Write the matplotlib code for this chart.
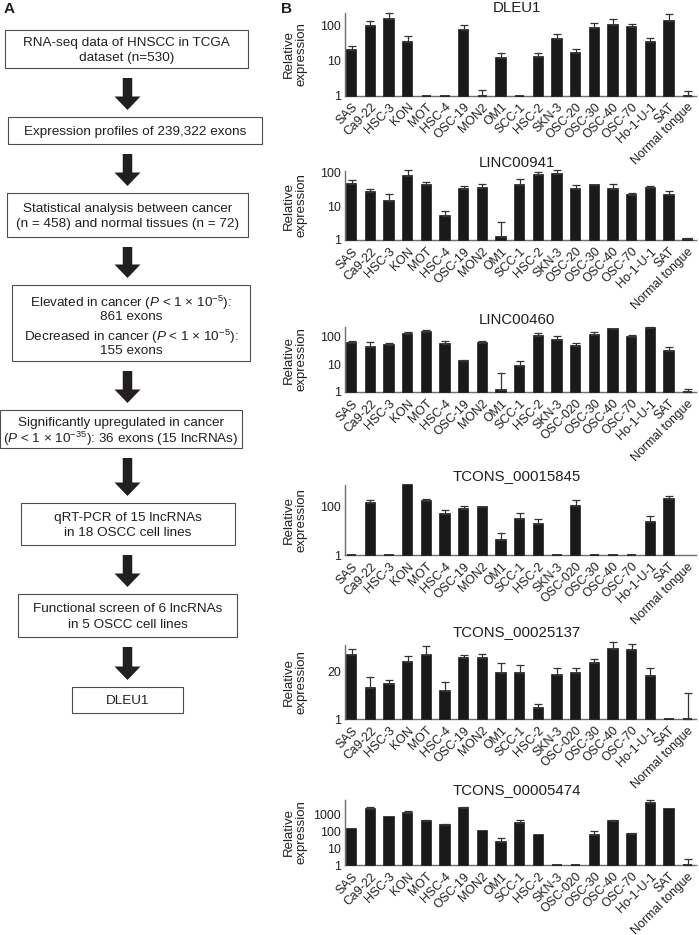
import numpy as np
import matplotlib
matplotlib.use("Agg")
import matplotlib.pyplot as plt
from matplotlib.patches import Rectangle, FancyArrow

plt.rcParams['font.family'] = ['Liberation Sans', 'DejaVu Sans']
plt.rcParams['mathtext.fontset'] = 'custom'
plt.rcParams['mathtext.rm'] = 'Liberation Sans'
plt.rcParams['mathtext.it'] = 'Liberation Sans:italic'
plt.rcParams['mathtext.bf'] = 'Liberation Sans:bold'

# ---------------- data ----------------
cells_a = ["SAS", "Ca9-22", "HSC-3", "KON", "MOT", "HSC-4", "OSC-19", "MON2", "OM1",
           "SCC-1", "HSC-2", "SKN-3", "OSC-20", "OSC-30", "OSC-40", "OSC-70",
           "Ho-1-U-1", "SAT", "Normal tongue"]
cells_b = ["SAS", "Ca9-22", "HSC-3", "KON", "MOT", "HSC-4", "OSC-19", "MON2", "OM1",
           "SCC-1", "HSC-2", "SKN-3", "OSC-020", "OSC-30", "OSC-40", "OSC-70",
           "Ho-1-U-1", "SAT", "Normal tongue"]

dleu1_val = [19.4, 93, 148, 34, 1, 1, 72, 1, 11.6, 1, 12.2, 40, 16.6, 84, 100, 86, 34, 130, 1]
dleu1_hi = [25.6, 130, 216, 48, 1, 1, 100, 1.39, 16.6, 1, 16.6, 55, 21.6, 112, 146, 105, 42, 207, 1.3]

linc941_val = [47, 26, 14.6, 81, 42, 5.3, 33, 36, 1.2, 44, 87, 92, 33, 42, 32, 21.6, 36, 22, 1.1]
linc941_hi = [62, 33, 23, 117, 53, 7.5, 41, 45, 3.4, 66, 105, 120, 44, 42.5, 46, 25, 41, 28, 1.17]

linc460_val = [60, 43, 48, 126, 149, 55, 13.4, 60, 1.2, 8.8, 103, 74, 46, 109, 180, 95, 196, 30, 1]
linc460_hi = [68, 65, 60, 144, 170, 71, 14, 71, 5, 13.4, 129, 107, 60, 149, 191, 109, 226, 43, 1.3]

t15845_val = [1, 145, 1, 790, 166, 49, 82, 99, 4.2, 30, 19, 1, 109, 1, 1, 1, 22.4, 220, np.nan]
t15845_hi = [1, 200, 1, 790, 212, 72, 106, 100, 7.9, 56, 32, 1, 187, 1, 1, 1, 41, 275, np.nan]

t25137_val = [60, 7.3, 9.2, 37, 60, 5.9, 48, 47, 18.8, 18.4, 2.0, 16.6, 18.8, 34.5, 83, 82, 15.2, 1, 1]
t25137_hi = [87, 14, 11.6, 55, 102, 10.3, 60, 62, 35, 30, 2.6, 26, 26, 46, 129, 116, 25, 1, 5.1]

t5474_val = [138, 1950, 700, 1140, 405, 228, 2340, 106, 22, 310, 62, 1, 1, 59, 390, 71, 4800, 1950, 1]
t5474_hi = [138, 2680, 700, 1560, 465, 270, 2680, 106, 38, 445, 62, 1, 1, 101, 465, 78, 6600, 1950, 2.3]

panels = [
    ("DLEU1", cells_a, dleu1_val, dleu1_hi, [1, 10, 100], 220),
    ("LINC00941", cells_a, linc941_val, linc941_hi, [1, 10, 100], 112),
    ("LINC00460", cells_b, linc460_val, linc460_hi, [1, 10, 100], 220),
    ("TCONS_00015845", cells_b, t15845_val, t15845_hi, [1, 100], 800),
    ("TCONS_00025137", cells_b, t25137_val, t25137_hi, [1, 20], 110),
    ("TCONS_00005474", cells_b, t5474_val, t5474_hi, [1, 10, 100, 1000], 7000),
]

flow_steps = [
    ["RNA-seq data of HNSCC in TCGA", "dataset (n=530)"],
    ["Expression profiles of 239,322 exons"],
    ["Statistical analysis between cancer", "(n = 458) and normal tissues (n = 72)"],
    ["Elevated in cancer ($\\mathit{P}$ < 1 × 10$^{\\mathrm{-5}}$):", "861 exons",
     "Decreased in cancer ($\\mathit{P}$ < 1 × 10$^{\\mathrm{-5}}$):", "155 exons"],
    ["Significantly upregulated in cancer",
     "($\\mathit{P}$ < 1 × 10$^{\\mathrm{-35}}$): 36 exons (15 lncRNAs)"],
    ["qRT-PCR of 15 lncRNAs", "in 18 OSCC cell lines"],
    ["Functional screen of 6 lncRNAs", "in 5 OSCC cell lines"],
    ["DLEU1"],
]

# ---------------- layout (pixels) ----------------
W, H = 699, 935
fig = plt.figure(figsize=(W / 100, H / 100), dpi=100)
TXT = '#231f20'

# overlay for flowchart
ov = fig.add_axes([0, 0, 1, 1], zorder=-1)
ov.set_xlim(0, W)
ov.set_ylim(H, 0)
ov.axis('off')

boxes = [  # x0, x1, y0, y1
    (5, 248, 30, 68),
    (8, 262, 117, 144),
    (7, 248, 193, 237),
    (12, 250, 285, 361),
    (0, 242, 410, 448),
    (21, 235, 503, 545),
    (18, 237, 594, 637),
    (72, 183, 687, 713),
]
line_offsets = {3: [-23, -8, 11, 26]}  # box 4 has a gap between the two statements
for i, ((x0, x1, y0, y1), lines) in enumerate(zip(boxes, flow_steps)):
    ov.add_patch(Rectangle((x0, y0), x1 - x0, y1 - y0, fill=False,
                           edgecolor='#4d4d4d', linewidth=0.8))
    yc = (y0 + y1) / 2
    n = len(lines)
    offs = line_offsets.get(i, [(k - (n - 1) / 2) * 15 for k in range(n)])
    for ln, off in zip(lines, offs):
        ov.text((x0 + x1) / 2, yc + off, ln, ha='center', va='center_baseline',
                fontsize=9.7, color=TXT)

# arrows between boxes
ax_c = 127.5
for i in range(len(boxes) - 1):
    y_start = boxes[i][3] + 10
    y_end = boxes[i + 1][2] - 7
    ov.add_patch(FancyArrow(ax_c, y_start, 0, y_end - y_start, width=9.5,
                            head_width=26, head_length=13.5,
                            length_includes_head=True, color='#231f20', lw=0))

fig.text(9 / W, 1 - 9 / H, "A", fontsize=11, fontweight='bold', color=TXT,
         ha='center', va='center')
fig.text(287 / W, 1 - 9 / H, "B", fontsize=11, fontweight='bold', color=TXT,
         ha='center', va='center')

# ---------------- bar panels ----------------
ax_geom = [(13, 95.5), (171, 240), (327, 392), (485, 555), (645, 719), (800, 865)]
title_y = [8, 163, 320, 476, 632, 790]
left_px, right_px = 345, 696

for (name, cats, vals, his, yt, ytop), (yt_px, yb_px), ty in zip(panels, ax_geom, title_y):
    ax = fig.add_axes([left_px / W, 1 - yb_px / H, (right_px - left_px) / W,
                       (yb_px - yt_px) / H])
    x = np.arange(len(cats))
    v = np.array(vals, dtype=float)
    hi = np.array(his, dtype=float)
    ax.set_yscale('log')
    ax.bar(x, v - 1, bottom=1, width=0.5, color='#1a1a1a', edgecolor='#1a1a1a',
           linewidth=1.2, zorder=3, clip_on=False)
    yerr = np.vstack([np.zeros_like(v), hi - v])
    mask = ~np.isnan(v) & ((hi - v) > 0)
    ax.errorbar(x[mask], v[mask], yerr=yerr[:, mask], fmt='none', ecolor='#333333',
                elinewidth=0.9, capsize=2.6, capthick=0.9, clip_on=False, zorder=4)
    ax.set_ylim(1, ytop)
    ax.set_xlim(-0.35, 18.45)
    ax.set_yticks(yt)
    ax.set_yticklabels([str(t) for t in yt])
    ax.yaxis.set_minor_locator(matplotlib.ticker.NullLocator())
    ax.set_xticks(x)
    ax.set_xticklabels(cats, rotation=45, ha='right', rotation_mode='anchor',
                       fontsize=8.9, color=TXT)
    ax.tick_params(axis='x', length=0, pad=4)
    ax.tick_params(axis='y', length=0, pad=3, labelsize=8.9, labelcolor=TXT)
    for s in ['top', 'right']:
        ax.spines[s].set_visible(False)
    for s in ['left', 'bottom']:
        ax.spines[s].set_color('#6e6e6e')
        ax.spines[s].set_linewidth(1.0)
    fig.text(517 / W, 1 - ty / H, name, ha='center', va='center', fontsize=10.8,
             color=TXT)
    fig.text(295 / W, 1 - ((yt_px + yb_px) / 2) / H, "Relative\nexpression",
             rotation=90, ha='center', va='center', fontsize=9.5, color=TXT,
             linespacing=1.05, multialignment='center')

fig.savefig("out.png", dpi=100)
